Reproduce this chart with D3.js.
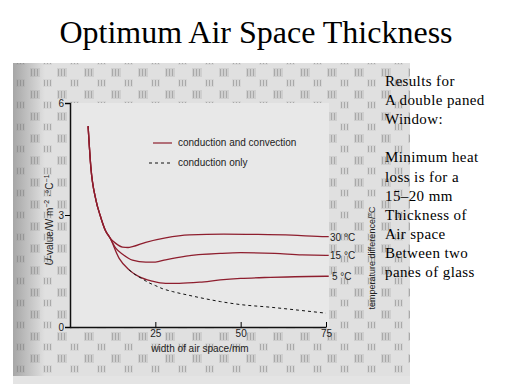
<!DOCTYPE html>
<html>
<head>
<meta charset="utf-8">
<script src="https://cdn.jsdelivr.net/npm/d3@7"></script>
<style>
  body { margin: 0; padding: 0; background: #fff; }
</style>
</head>
<body>
<script>
// [width of air space (mm), U-value (W m-2 C-1)]
const trunk = [[5.3, 5.38], [6.1, 4.29], [7.6, 3.40], [8.8, 3.00], [10.3, 2.60], [11.7, 2.39]]
const curve30 = [[13.4, 2.24], [15.4, 2.14], [17, 2.13], [18.3, 2.15], [22.2, 2.27], [28, 2.39], [35, 2.47], [45, 2.49], [55, 2.48], [65, 2.46], [75, 2.42]]
const curve15 = [[13.4, 2.11], [15.4, 1.95], [18.3, 1.79], [22.2, 1.74], [25, 1.74], [28, 1.80], [34, 1.90], [44, 1.97], [50, 1.99], [60, 1.97], [68, 1.93], [75, 1.92]]
const curve5 = [[14.4, 1.84], [17.3, 1.53], [20.2, 1.35], [24.1, 1.23], [28, 1.17], [32, 1.17], [38, 1.20], [44, 1.26], [50, 1.30], [58.7, 1.33], [75, 1.36]]
const conductionOnly = [[17.3, 1.53], [19, 1.41], [21, 1.30], [23, 1.19], [25, 1.11], [27, 1.03], [30, 0.95], [34.3, 0.86], [40, 0.75], [44.1, 0.68], [50, 0.60], [58.7, 0.53], [67, 0.45], [75, 0.37]]

const curveLabels = ["30 °C", "15 °C", "5 °C"]
const xTicks = [25, 50, 75]
const yTicks = [0, 3, 6]
const legendLabels = ["conduction and convection", "conduction only"]
const notes = ["Results for", "A double paned", "Window:", "", "Minimum heat", "loss is for a", "15–20 mm", "Thickness of", "Air space", "Between two", "panes of glass"]

const width = 512
const height = 384
const red = "#8e1e2e"

const svg = d3.select("body").append("svg")
  .attr("width", width)
  .attr("height", height)
  .style("display", "block")

// scanned page background
const defs = svg.append("defs")
const pat = defs.append("pattern")
  .attr("id", "tweed")
  .attr("width", 27).attr("height", 22)
  .attr("patternUnits", "userSpaceOnUse")
pat.append("rect").attr("width", 27).attr("height", 22).attr("fill", "#e0e0e0")
;[[3, 2, 10, 9, "#cfcfcf"], [16, 13, 9, 8, "#d6d6d6"]].forEach(([px, py, w, h, c]) => {
  pat.append("rect").attr("x", px).attr("y", py).attr("width", w).attr("height", h).attr("fill", c)
  for (let i = 1; i < w; i += 3) {
    pat.append("rect").attr("x", px + i).attr("y", py + 1).attr("width", 1).attr("height", h - 2).attr("fill", "#a9a9a9")
  }
})
const edge = defs.append("linearGradient").attr("id", "edge")
edge.append("stop").attr("offset", 0).attr("stop-color", "#777").attr("stop-opacity", 0.55)
edge.append("stop").attr("offset", 1).attr("stop-color", "#777").attr("stop-opacity", 0)

svg.append("rect").attr("x", 13).attr("y", 63).attr("width", 397).attr("height", 321).attr("fill", "#e4e4e4")
svg.append("rect").attr("x", 13).attr("y", 63).attr("width", 397).attr("height", 313).attr("fill", "url(#tweed)")
svg.append("rect").attr("x", 13).attr("y", 63).attr("width", 32).attr("height", 313).attr("fill", "url(#edge)")

// title
svg.append("text")
  .attr("x", 256).attr("y", 43)
  .attr("text-anchor", "middle")
  .style("font-family", "'Liberation Serif', 'Times New Roman', serif")
  .style("font-size", "32px")
  .text("Optimum Air Space Thickness")

const x = d3.scaleLinear().domain([0, 75]).range([70, 326])
const y = d3.scaleLinear().domain([0, 6]).range([327, 103])

svg.append("rect")
  .attr("x", x(0)).attr("y", y(6))
  .attr("width", x(75) - x(0) + 3).attr("height", y(0) - y(6))
  .attr("fill", "#e8e8e8")

const font = "'Liberation Sans', Arial, sans-serif"

svg.append("g")
  .attr("transform", `translate(${x(0)},0)`)
  .call(d3.axisLeft(y).tickValues(yTicks).tickFormat(d3.format("d")).tickSize(5).tickPadding(1))
  .call(g => g.select(".domain").attr("stroke", "#111").attr("stroke-width", 1.5))
  .call(g => g.selectAll("text").style("font-family", font).style("font-size", "10px").attr("fill", "#222"))

svg.append("g")
  .attr("transform", `translate(0,${y(0)})`)
  .call(d3.axisBottom(x).tickValues(xTicks).tickFormat(d3.format("d")).tickSizeInner(-5).tickSizeOuter(0).tickPadding(3))
  .call(g => g.select(".domain").attr("stroke", "#111").attr("stroke-width", 1.5))
  .call(g => g.selectAll("text").style("font-family", font).style("font-size", "10px").attr("fill", "#222"))

const line = d3.line()
  .x(d => x(d[0]))
  .y(d => y(d[1]))
  .curve(d3.curveMonotoneX)

const series = [curve30, curve15, curve5]
svg.append("g")
  .selectAll("path")
  .data(series)
  .join("path")
  .attr("d", d => line(trunk.concat(d).concat([[75.8, d[d.length - 1][1]]])))
  .attr("fill", "none")
  .attr("stroke", red)
  .attr("stroke-width", 1.3)

svg.append("path")
  .attr("d", line(conductionOnly))
  .attr("fill", "none")
  .attr("stroke", "#111")
  .attr("stroke-width", 1)
  .attr("stroke-dasharray", "3,3")

svg.append("g")
  .selectAll("text")
  .data(series)
  .join("text")
  .attr("x", (d, i) => i == 2 ? 332 : 330)
  .attr("y", d => y(d[d.length - 1][1]) + 4)
  .style("font-family", font)
  .style("font-size", "10px")
  .attr("fill", "#222")
  .text((d, i) => curveLabels[i])

// legend
svg.append("line").attr("x1", 153).attr("x2", 172).attr("y1", 143).attr("y2", 143)
  .attr("stroke", red).attr("stroke-width", 1.2)
svg.append("line").attr("x1", 149).attr("x2", 172).attr("y1", 163).attr("y2", 163)
  .attr("stroke", "#111").attr("stroke-dasharray", "3,3")
svg.append("g")
  .selectAll("text")
  .data(legendLabels)
  .join("text")
  .attr("x", 178)
  .attr("y", (d, i) => 146 + i * 20)
  .style("font-family", font)
  .style("font-size", "10px")
  .attr("fill", "#222")
  .text(d => d)

// axis titles
const yTitle = svg.append("text")
  .attr("transform", "translate(53,220) rotate(-90)")
  .attr("text-anchor", "middle")
  .style("font-family", font)
  .style("font-size", "10px")
  .attr("fill", "#222")
yTitle.append("tspan").style("font-style", "italic").text("U")
yTitle.append("tspan").text("-value/W m")
yTitle.append("tspan").attr("dy", -4).style("font-size", "7px").text("−2")
yTitle.append("tspan").attr("dy", 4).text(" ·°C")
yTitle.append("tspan").attr("dy", -4).style("font-size", "7px").text("−1")

svg.append("text")
  .attr("x", 200).attr("y", 352)
  .attr("text-anchor", "middle")
  .style("font-family", font)
  .style("font-size", "10px")
  .attr("fill", "#222")
  .text("width of air space/mm")

svg.append("text")
  .attr("transform", "translate(375,258) rotate(-90)")
  .attr("text-anchor", "middle")
  .style("font-family", font)
  .style("font-size", "9px")
  .attr("fill", "#222")
  .text("temperature difference/°C")

// notes on the right
svg.append("g")
  .selectAll("text")
  .data(notes)
  .join("text")
  .attr("x", 385)
  .attr("y", (d, i) => 86 + i * 19.1)
  .style("font-family", "'Liberation Serif', 'Times New Roman', serif")
  .style("font-size", "15px")
  .style("letter-spacing", "0.4px")
  .text(d => d)
</script>
</body>
</html>
